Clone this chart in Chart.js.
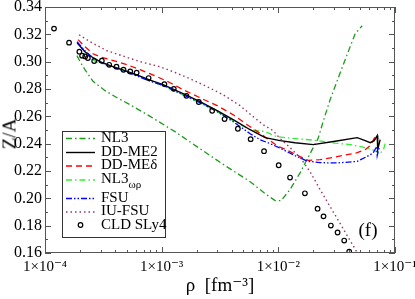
<!DOCTYPE html>
<html><head><meta charset="utf-8">
<script src="https://cdn.jsdelivr.net/npm/chart.js@4.4.1/dist/chart.umd.min.js"></script>
<style>
html,body{margin:0;padding:0;background:#fff;overflow:hidden}
#wrap{position:relative;width:415px;height:299px}
canvas{display:block}
#ytitle{position:absolute;left:9px;top:134px;transform:translate(-50%,-50%) rotate(-90deg);font:19px 'Liberation Serif','DejaVu Serif',serif;color:#000;white-space:nowrap;line-height:1}
</style>
</head><body>
<div id="wrap">
<canvas id="c" width="415" height="299"></canvas>
<div id="ytitle"></div>
</div>
<script>
// ---- data ----
const nl3Rho = [1.88e-4,2.0e-4,2.2e-4,2.58e-4,3.27e-4,4.15e-4,5.36e-4,7.95e-4,1.30e-3,2.13e-3,3.50e-3,5.73e-3,7.71e-3,9.39e-3,1.057e-2,1.26e-2,1.54e-2,1.91e-2,2.19e-2,2.42e-2,2.78e-2,3.39e-2,4.13e-2,4.56e-2,5.23e-2];
const nl3ZA  = [0.3044,0.300,0.2941,0.2856,0.2788,0.2736,0.2685,0.2600,0.2488,0.2363,0.2239,0.2122,0.2034,0.1983,0.1983,0.2064,0.2188,0.2342,0.2437,0.2561,0.2722,0.2919,0.3110,0.3205,0.3263];

const ddme2Rho = [1.89e-4,2.2e-4,2.58e-4,2.96e-4,3.61e-4,4.86e-4,6.53e-4,7.95e-4,1.028e-3,1.526e-3,2.13e-3,2.99e-3,4.10e-3,5.73e-3,7.71e-3,1.036e-2,1.39e-2,1.99e-2,3.07e-2,4.74e-2,5.55e-2,6.13e-2,6.63e-2,7.04e-2,7.11e-2,7.46e-2];
const ddme2ZA  = [0.3137,0.3073,0.3029,0.300,0.2971,0.2934,0.2894,0.2865,0.2832,0.2766,0.2707,0.2641,0.2576,0.2502,0.2444,0.2422,0.2407,0.2393,0.2418,0.2444,0.2422,0.2407,0.2422,0.2459,0.2356,0.2429];

const ddmedRho = [1.92e-4,2.2e-4,2.58e-4,2.96e-4,3.61e-4,5.05e-4,6.53e-4,9.13e-4,1.18e-3,1.526e-3,2.13e-3,2.99e-3,4.10e-3,5.40e-3,7.41e-3,9.76e-3,1.26e-2,1.54e-2,1.80e-2,2.28e-2,3.19e-2,4.74e-2,5.55e-2,6.13e-2,6.76e-2,7.18e-2];
const ddmedZA  = [0.3161,0.3110,0.3058,0.3036,0.3015,0.2978,0.2941,0.2890,0.2846,0.2795,0.2736,0.2678,0.2612,0.2539,0.2459,0.2385,0.2342,0.2305,0.2278,0.2283,0.2305,0.2334,0.2356,0.2385,0.2451,0.2437];

const nl3wrRho = [2.58e-4,2.74e-4,3.27e-4,4.15e-4,5.36e-4,7.2e-4,9.69e-4,1.44e-3,2.13e-3,2.99e-3,4.10e-3,5.73e-3,7.71e-3,9.58e-3,1.26e-2,1.99e-2,3.07e-2,4.13e-2,5.23e-2,6.38e-2,7.46e-2,7.92e-2,8.24e-2];
const nl3wrZA  = [0.3015,0.300,0.2978,0.2952,0.2919,0.2875,0.2832,0.2766,0.270,0.2634,0.2568,0.2502,0.2488,0.2453,0.244,0.2426,0.2404,0.2393,0.2376,0.2356,0.2332,0.2349,0.2400];

const fsuRho = [1.88e-4,2.2e-4,2.58e-4,2.96e-4,3.61e-4,4.86e-4,6.53e-4,7.95e-4,1.028e-3,1.526e-3,2.13e-3,2.99e-3,4.10e-3,5.73e-3,6.98e-3,8.51e-3,1.036e-2,1.39e-2,1.77e-2,2.28e-2,3.19e-2,4.74e-2,5.78e-2,6.5e-2,6.97e-2,7.04e-2,7.32e-2];
const fsuZA  = [0.3146,0.308,0.3025,0.2996,0.2967,0.2927,0.2886,0.2857,0.2828,0.2758,0.270,0.2634,0.2561,0.2473,0.2429,0.240,0.2367,0.2312,0.2272,0.2261,0.2259,0.227,0.2307,0.2332,0.238,0.2312,0.2371];

const iufsuRho = [1.96e-4,2.43e-4,3.40e-4,4.86e-4,6.53e-4,9.69e-4,1.25e-3,1.75e-3,2.45e-3,3.36e-3,4.70e-3,6.08e-3,7.41e-3,9.02e-3,1.036e-2,1.26e-2,1.54e-2,1.87e-2,2.28e-2,2.78e-2,3.39e-2,4.13e-2,4.74e-2];
const iufsuZA  = [0.3197,0.3146,0.308,0.3036,0.300,0.2963,0.2927,0.2875,0.2817,0.2758,0.2678,0.2598,0.2539,0.2495,0.2437,0.2371,0.2298,0.2195,0.2064,0.1939,0.1815,0.169,0.1603];

const cldRho = [1.195e-4,1.608e-4,1.97e-4,2.08e-4,2.21e-4,2.33e-4,2.64e-4,3.07e-4,3.55e-4,4.10e-4,4.71e-4,5.38e-4,6.10e-4,7.73e-4,1.055e-3,1.27e-3,1.63e-3,2.08e-3,2.71e-3,3.46e-3,4.50e-3,5.79e-3,7.54e-3,1.007e-2,1.26e-2,1.69e-2,2.17e-2,2.44e-2,2.82e-2,3.22e-2,3.67e-2,4.05e-2];
const cldZA  = [0.3242,0.3139,0.3073,0.3044,0.3038,0.3027,0.3005,0.3007,0.2977,0.2963,0.2941,0.2928,0.2919,0.288,0.2836,0.2801,0.275,0.2705,0.2641,0.258,0.2509,0.2433,0.2345,0.2242,0.2152,0.2037,0.1924,0.1868,0.1801,0.175,0.1691,0.161];

const seriesNames = ['NL3','DD-ME2','DD-MEδ','NL3ωρ','FSU','IU-FSU','CLD SLy4'];
const xTickLabels = {'-4':'1×10⁻⁴','-3':'1×10⁻³','-2':'1×10⁻²','-1':'1×10⁻¹'};
const yMin = 0.16, yMax = 0.34, yStep = 0.02;
const xMin = 1e-4, xMax = 1e-1;
const yTitle = 'Z/A';
const xTitle = 'ρ  [fm⁻³]';

document.getElementById('ytitle').textContent = yTitle;

const pts = (xs, ys) => xs.map((v, i) => ({x: v, y: ys[i]}));
const SERIF = "'Liberation Serif','DejaVu Serif',serif";

const lineDs = (label, xs, ys, color, dash, width, order) => ({
  label, data: pts(xs, ys), showLine: true, borderColor: color, backgroundColor: color,
  borderDash: dash, borderWidth: width, pointRadius: 0, pointHoverRadius: 0, tension: 0, order, fill: false
});

const datasets = [
  lineDs(seriesNames[0], nl3Rho, nl3ZA, '#1f9a1f', [6,3,1.5,3], 1.3, 6),
  lineDs(seriesNames[1], ddme2Rho, ddme2ZA, '#000000', [], 1.4, 3),
  lineDs(seriesNames[2], ddmedRho, ddmedZA, '#ff0000', [6,4], 1.3, 4),
  lineDs(seriesNames[3], nl3wrRho, nl3wrZA, '#33ee33', [6,3,1.5,3], 1.3, 5),
  lineDs(seriesNames[4], fsuRho, fsuZA, '#0000ff', [6,2,1.5,2,1.5,2], 1.3, 2),
  lineDs(seriesNames[5], iufsuRho, iufsuZA, '#993366', [1.5,3], 1.4, 7),
  { label: seriesNames[6], data: pts(cldRho, cldZA), showLine: false, pointStyle: 'circle',
    pointRadius: 2.3, pointBorderWidth: 1.2, pointBorderColor: '#000', pointBackgroundColor: 'rgba(0,0,0,0)',
    borderColor: '#000', backgroundColor: 'rgba(0,0,0,0)', order: 1 }
];

const decor = {
  id: 'decor',
  afterDraw(chart) {
    const {ctx, chartArea: a, scales: {x, y}} = chart;
    ctx.save();
    ctx.setTransform(1, 0, 0, 1, 0, 0);
    // frame
    ctx.strokeStyle = '#555'; ctx.lineWidth = 1;
    ctx.strokeRect(a.left + 0.5, a.top + 0.5, a.right - a.left - 1, a.bottom - a.top - 1);
    // y ticks (inward, both sides)
    ctx.beginPath();
    for (let k = 0; k <= Math.round((yMax - yMin) / 0.01); k++) {
      const v = yMin + k * 0.01;
      const py = Math.round(y.getPixelForValue(v)) + 0.5;
      const len = (k % 2 === 0) ? 6 : 3;
      ctx.moveTo(a.left, py); ctx.lineTo(a.left + len, py);
      ctx.moveTo(a.right, py); ctx.lineTo(a.right - len, py);
    }
    // x ticks (log, inward, both sides)
    for (let e = -4; e <= -1; e++) {
      for (let m = 1; m <= 9; m++) {
        const v = m * Math.pow(10, e);
        if (v > xMax * 1.0001) break;
        const px = Math.round(x.getPixelForValue(v)) + 0.5;
        const len = m === 1 ? 6 : 3;
        ctx.moveTo(px, a.bottom); ctx.lineTo(px, a.bottom - len);
        ctx.moveTo(px, a.top); ctx.lineTo(px, a.top + len);
      }
    }
    ctx.stroke();

    // legend box
    const L = {x0: 62, y0: 131, x1: 165, y1: 237};
    ctx.fillStyle = '#fff';
    ctx.fillRect(L.x0, L.y0, L.x1 - L.x0, L.y1 - L.y0);
    ctx.strokeStyle = '#333'; ctx.lineWidth = 1;
    ctx.strokeRect(L.x0 + 0.5, L.y0 + 0.5, L.x1 - L.x0, L.y1 - L.y0);
    const rows = [138, 152, 165.5, 179.5, 198, 211.5, 225];
    ctx.font = '15px ' + SERIF;
    ctx.textAlign = 'left';
    ctx.textBaseline = 'middle';
    chart.data.datasets.forEach((ds, i) => {
      const ry = rows[i];
      if (ds.showLine) {
        ctx.save();
        ctx.strokeStyle = ds.borderColor; ctx.lineWidth = ds.borderWidth;
        ctx.setLineDash(ds.borderDash || []);
        ctx.beginPath(); ctx.moveTo(66, ry + 0.5); ctx.lineTo(95, ry + 0.5); ctx.stroke();
        ctx.restore();
      } else {
        ctx.beginPath(); ctx.arc(80.5, ry, 2.3, 0, Math.PI * 2);
        ctx.strokeStyle = '#000'; ctx.lineWidth = 1.2; ctx.stroke();
      }
      ctx.fillStyle = '#000';
      const name = ds.label;
      if (name === 'NL3ωρ') {
        ctx.fillText('NL3', 101, ry);
        const w = ctx.measureText('NL3').width;
        ctx.font = '11px ' + SERIF;
        ctx.fillText('ωρ', 101 + w, ry + 6);
        ctx.font = '15px ' + SERIF;
      } else {
        ctx.fillText(name, 101, ry);
      }
    });
    // panel label
    ctx.font = '19px ' + SERIF;
    ctx.textAlign = 'center';
    ctx.fillText('(f)', 368, 231);
    ctx.restore();
  }
};

new Chart(document.getElementById('c'), {
  type: 'scatter',
  data: { datasets },
  plugins: [decor],
  options: {
    responsive: false,
    animation: false,
    events: [],
    layout: { padding: { top: 7, right: 20, left: 0, bottom: 0 } },
    plugins: { legend: { display: false }, tooltip: { enabled: false } },
    scales: {
      x: {
        type: 'logarithmic', min: xMin, max: xMax,
        grid: { display: false, drawTicks: false },
        border: { display: false },
        ticks: {
          autoSkip: false, maxRotation: 0, minRotation: 0, padding: 5, color: '#000',
          font: { family: SERIF, size: 15 },
          callback: (v) => {
            const l = Math.log10(v);
            return Math.abs(l - Math.round(l)) < 1e-6 ? (xTickLabels[String(Math.round(l))] || '') : '';
          }
        },
        title: { display: true, text: xTitle, color: '#000', font: { family: SERIF, size: 19 }, padding: { top: 0, bottom: 2 } },
        afterFit(s) { s.height = 46; s.paddingLeft = 0; s.paddingRight = 0; }
      },
      y: {
        min: yMin, max: yMax,
        grid: { display: false, drawTicks: false },
        border: { display: false },
        ticks: { stepSize: yStep, padding: 3, color: '#000', font: { family: SERIF, size: 16 },
          callback: (v) => Number(v).toFixed(2) },
        title: { display: false },
        afterFit(s) { s.width = 45; s.paddingTop = 0; s.paddingBottom = 0; }
      }
    }
  }
});
</script>
</body></html>
